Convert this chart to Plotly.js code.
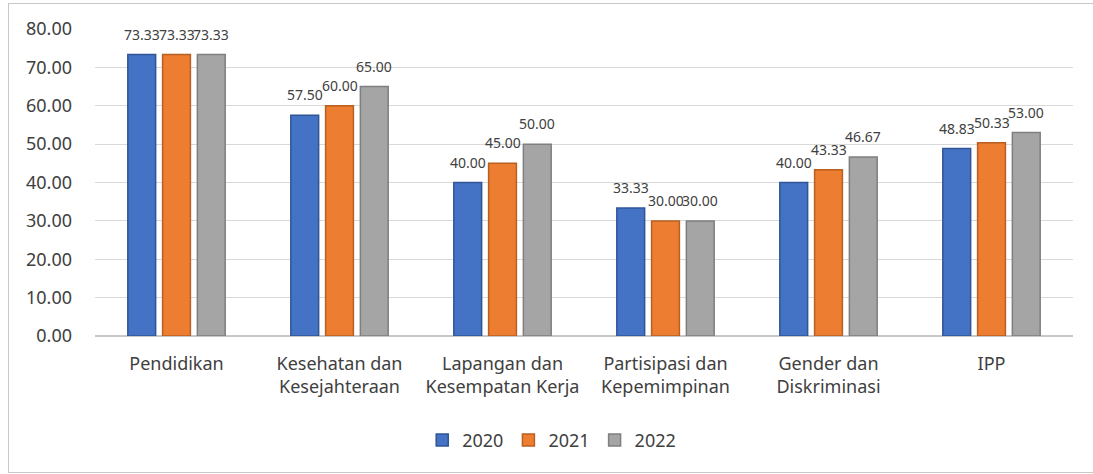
<!DOCTYPE html>
<html>
<head>
<meta charset="utf-8">
<script src="https://cdn.plot.ly/plotly-3.0.1.min.js"></script>
<style>
html,body{margin:0;padding:0;background:#fff;}
#frame{position:absolute;left:8px;top:3px;width:1090px;height:470px;border:1.5px solid #c8c8c8;box-sizing:border-box;}
#chart{position:absolute;left:0;top:0;width:1093px;height:474px;}
</style>
</head>
<body>
<div id="frame"></div>
<div id="chart"></div>
<script>
const categories = ["Pendidikan", "Kesehatan dan<br>Kesejahteraan", "Lapangan dan<br>Kesempatan Kerja", "Partisipasi dan<br>Kepemimpinan", "Gender dan<br>Diskriminasi", "IPP"];
const seriesNames = ["2020", "2021", "2022"];
const values2020 = [73.33, 57.50, 40.00, 33.33, 40.00, 48.83];
const values2021 = [73.33, 60.00, 45.00, 30.00, 43.33, 50.33];
const values2022 = [73.33, 65.00, 50.00, 30.00, 46.67, 53.00];
const yTicks = [0, 10, 20, 30, 40, 50, 60, 70, 80];

const fills = ["#4472C4", "#ED7D31", "#A5A5A5"];
const edges = ["#2F5597", "#B85F22", "#7F7F7F"];
const allValues = [values2020, values2021, values2022];

const W = 1093, H = 474;
const margin = {l: 95, r: 20, t: 29, b: 138};
const bargap = 0.36;
const plotW = W - margin.l - margin.r;
const slot = (plotW / categories.length) * (1 - bargap) / allValues.length;

const traces = allValues.map((vals, i) => ({
  type: "bar",
  name: seriesNames[i],
  x: categories,
  y: vals,
  marker: {color: fills[i], line: {color: edges[i], width: 1.5}},
  hoverinfo: "x+y+name"
}));

const annotations = [];
allValues.forEach((vals, i) => {
  vals.forEach((v, j) => {
    annotations.push({
      x: categories[j],
      y: v,
      xref: "x",
      yref: "y",
      text: v.toFixed(2),
      showarrow: false,
      xanchor: "center",
      yanchor: "bottom",
      xshift: (i - (allValues.length - 1) / 2) * slot,
      yshift: 9,
      font: {family: "Noto Sans, sans-serif", size: 14, color: "#404040"}
    });
  });
});

const layout = {
  width: W,
  height: H,
  margin: margin,
  paper_bgcolor: "rgba(0,0,0,0)",
  plot_bgcolor: "rgba(0,0,0,0)",
  barmode: "group",
  bargap: bargap,
  bargroupgap: 0.2,
  font: {family: "Noto Sans, sans-serif", size: 17, color: "#404040"},
  xaxis: {
    type: "category",
    showgrid: false,
    showline: false,
    ticks: "",
    ticklabelstandoff: 15,
    tickfont: {size: 18, color: "#404040"}
  },
  yaxis: {
    range: [0, 80],
    tickvals: yTicks,
    tickformat: ".2f",
    showgrid: true,
    gridcolor: "#d9d9d9",
    gridwidth: 1,
    zeroline: true,
    zerolinecolor: "#c8c8c8",
    zerolinewidth: 1.5,
    showline: false,
    ticks: "",
    ticklabelstandoff: 22,
    tickfont: {size: 18, color: "#404040"}
  },
  annotations: annotations,
  showlegend: true,
  legend: {
    orientation: "h",
    x: 0.467,
    xanchor: "center",
    y: -0.34,
    yanchor: "middle",
    font: {size: 18, color: "#404040"},
    itemwidth: 30,
    traceorder: "normal"
  }
};

Plotly.newPlot("chart", traces, layout, {displayModeBar: false, staticPlot: true});
</script>
</body>
</html>
